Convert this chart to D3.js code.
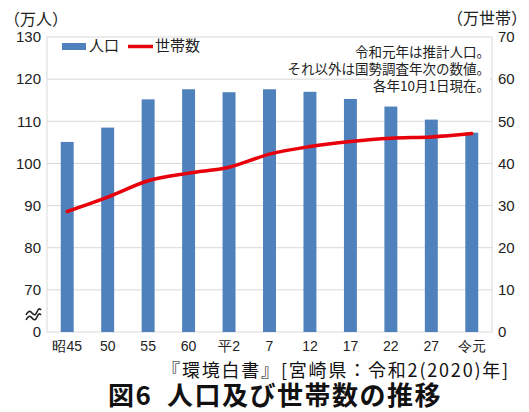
<!DOCTYPE html>
<html><head><meta charset="utf-8">
<script src="https://cdn.jsdelivr.net/npm/d3@7"></script>
<style>
html,body{margin:0;padding:0;background:#fff;}
svg{display:block;font-family:"Noto Sans CJK JP","Noto Sans",sans-serif;}
</style></head>
<body>
<svg id="chart" width="529" height="412"></svg>
<script>
const categories = ["昭45","50","55","60","平2","7","12","17","22","27","令元"];
const population = [105.1,108.5,115.2,117.6,116.9,117.6,117.0,115.3,113.5,110.4,107.3];
const households = [28.6,32.0,35.9,37.7,39.1,42.2,44.0,45.2,46.0,46.3,47.1];
const leftTicks = [0,70,80,90,100,110,120,130];
const rightTicks = [0,10,20,30,40,50,60,70];
const noteLines = ["令和元年は推計人口。","それ以外は国勢調査年次の数値。","各年10月1日現在。"];
const legendLabels = ["人口","世帯数"];
const leftUnit = "（万人）";
const rightUnit = "（万世帯）";
const sourceText = "『環境白書』[宮崎県：令和2(2020)年]";
const titleText = "図6 人口及び世帯数の推移";

const svg = d3.select("#chart");
const L = 47, R = 492, T = 37, B = 332;
const gridColor = "#d9d9d9";

const x = d3.scaleBand().domain(categories).range([L, R]).paddingInner(0.68).paddingOuter(0.34);
// left axis with a break between 0 and 70
const yL = d3.scaleLinear().domain([0, 70, 130]).range([B, B - (B - T) / 7, T]);
const yR = d3.scaleLinear().domain([0, 70]).range([B, T]);

// gridlines
svg.append("g").selectAll("line").data(rightTicks.slice(1, -1)).join("line")
  .attr("x1", L).attr("x2", R).attr("y1", d => yR(d)).attr("y2", d => yR(d))
  .attr("stroke", gridColor).attr("stroke-width", 1);
// plot border
svg.append("rect").attr("x", L).attr("y", T).attr("width", R - L).attr("height", B - T)
  .attr("fill", "none").attr("stroke", gridColor).attr("stroke-width", 1);

// bars
svg.append("g").selectAll("rect").data(population).join("rect")
  .attr("x", (d, i) => x(categories[i]))
  .attr("width", x.bandwidth())
  .attr("y", d => yL(d))
  .attr("height", d => yL(0) - yL(d))
  .attr("fill", "#4f81bd");

// household line
const line = d3.line()
  .x((d, i) => x(categories[i]) + x.bandwidth() / 2)
  .y(d => yR(d))
  .curve(d3.curveMonotoneX);
svg.append("path").datum(households).attr("d", line)
  .attr("fill", "none").attr("stroke", "#e8000b").attr("stroke-width", 3.5)
  .attr("stroke-linejoin", "round").attr("stroke-linecap", "round");

// left axis
const axL = d3.axisLeft(yL).tickValues(leftTicks).tickSize(0).tickPadding(6);
const gL = svg.append("g").attr("transform", `translate(${L},0)`).call(axL);
gL.select(".domain").remove();
gL.selectAll("text").attr("font-size", 15).attr("fill", "#222")
  .attr("font-family", "'Liberation Sans','Noto Sans',sans-serif");

// right axis
const axR = d3.axisRight(yR).tickValues(rightTicks).tickSize(0).tickPadding(6);
const gR = svg.append("g").attr("transform", `translate(${R},0)`).call(axR);
gR.select(".domain").remove();
gR.selectAll("text").attr("font-size", 15).attr("fill", "#222")
  .attr("font-family", "'Liberation Sans','Noto Sans',sans-serif");

// bottom axis
const axB = d3.axisBottom(x).tickSize(0).tickPadding(9);
const gB = svg.append("g").attr("transform", `translate(0,${B})`).call(axB);
gB.select(".domain").remove();
gB.selectAll("text").attr("font-size", 14).attr("fill", "#222");

// break symbol
const bx = 26, by = 313;
[0, 5].forEach(off => {
  svg.append("path")
    .attr("d", `M${bx},${by + off + 2} q3,-6 6,-2 t5,-1 t4,-2`)
    .attr("fill", "none").attr("stroke", "#222").attr("stroke-width", 1.6);
});

// units
svg.append("text").attr("x", 4).attr("y", 25).attr("font-size", 16).attr("fill", "#222").text(leftUnit);
svg.append("text").attr("x", 527).attr("y", 24).attr("text-anchor", "end").attr("font-size", 16).attr("fill", "#222").text(rightUnit);

// legend
svg.append("rect").attr("x", 62).attr("y", 43).attr("width", 24).attr("height", 7).attr("fill", "#4f81bd");
svg.append("text").attr("x", 89).attr("y", 51).attr("font-size", 15).attr("fill", "#222").text(legendLabels[0]);
svg.append("line").attr("x1", 128).attr("x2", 153).attr("y1", 46.5).attr("y2", 46.5)
  .attr("stroke", "#e8000b").attr("stroke-width", 3.5);
svg.append("text").attr("x", 155).attr("y", 51).attr("font-size", 15).attr("fill", "#222").text(legendLabels[1]);

// note
const noteG = svg.append("g");
const noteRects = noteG.append("g");
noteLines.forEach((t, i) => {
  const tx = noteG.append("text").attr("x", 490).attr("y", 57 + i * 17)
    .attr("text-anchor", "end").attr("font-size", 13.5).attr("fill", "#222").text(t);
  const bb = tx.node().getBBox();
  noteRects.append("rect").attr("x", bb.x - 2).attr("y", bb.y + 2).attr("width", bb.width + 2).attr("height", bb.height - 4)
    .attr("fill", "#fff");
});

// source & title
svg.append("text").attr("x", 510).attr("y", 377).attr("text-anchor", "end")
  .attr("font-size", 18).attr("letter-spacing", 1.8).attr("fill", "#111").text(sourceText);
svg.append("text").attr("x", 275).attr("y", 405).attr("text-anchor", "middle")
  .attr("font-size", 26).attr("letter-spacing", 1.5).attr("font-weight", "bold").attr("fill", "#111")
  .attr("xml:space", "preserve").text(titleText.replace(" ", "  "));
</script>
</body></html>
